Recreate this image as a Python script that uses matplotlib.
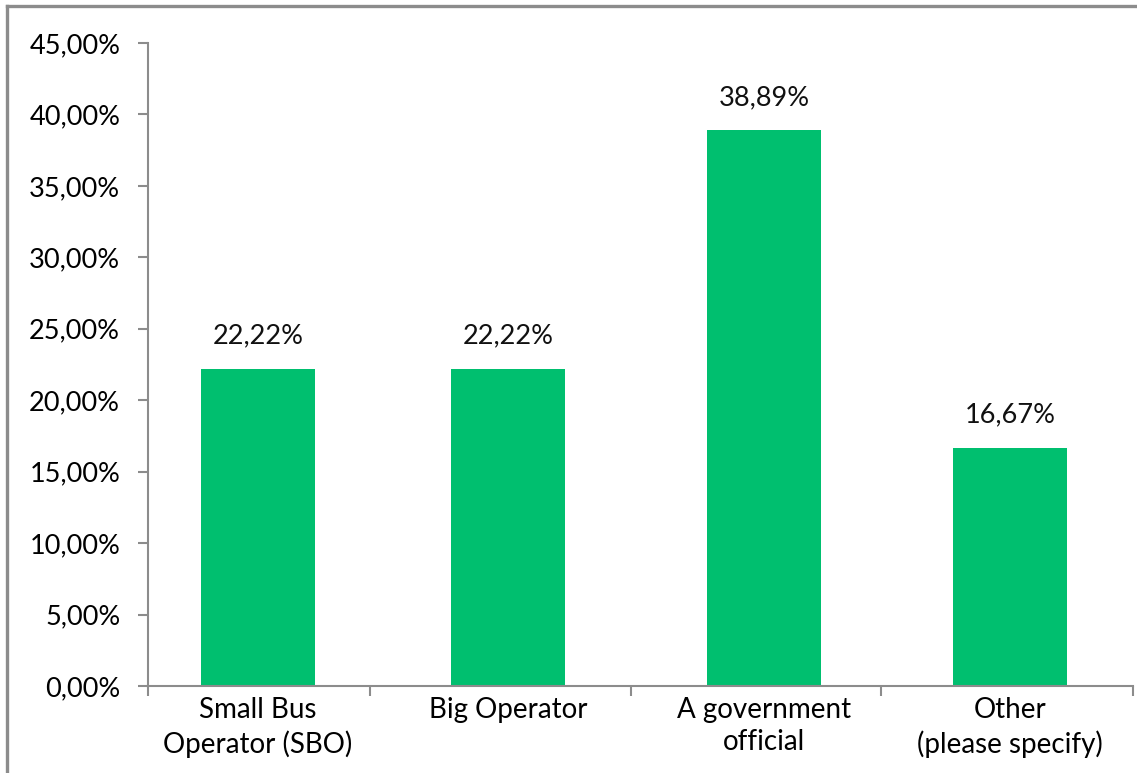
import matplotlib.pyplot as plt
from matplotlib.lines import Line2D
from matplotlib.ticker import FuncFormatter, MultipleLocator

categories = ['Small Bus\nOperator (SBO)', 'Big Operator', 'A government\nofficial', 'Other\n(please specify)']
shares = [22.22, 22.22, 38.89, 16.67]
value_labels = ['22,22%', '22,22%', '38,89%', '16,67%']

# slot layout (the source image is slightly uneven)
bar_x = [0.447, 1.462, 2.501, 3.500]
slot_edges = [0, 0.901, 1.961, 2.976, 4]

plt.rcParams['font.family'] = ['Lato', 'DejaVu Sans']
grey = '#8c8c8c'
green = '#00bf6f'

fig = plt.figure(figsize=(11.37, 7.73), dpi=100)
ax = fig.add_axes([148 / 1137, 87 / 773, 985 / 1137, 643 / 773])

ax.bar(bar_x, shares, width=0.46, color=green)
for x, v, lab in zip(bar_x, shares, value_labels):
    ax.text(x, v + 1.4, lab, ha='center', va='bottom', fontsize=19.5, color='#111111')

ax.set_xlim(0, 4)
ax.set_ylim(0, 45)
ax.yaxis.set_major_locator(MultipleLocator(5))
ax.yaxis.set_major_formatter(FuncFormatter(lambda v, p: f'{v:.2f}'.replace('.', ',') + '%'))

ax.set_xticks(slot_edges)
ax.set_xticklabels([])
ax.set_xticks(bar_x, minor=True)
ax.set_xticklabels(categories, minor=True, fontsize=20, linespacing=1.3)
ax.tick_params(axis='x', which='minor', length=0, pad=8)
ax.tick_params(axis='x', which='major', length=7, width=1.5, color=grey, direction='out')
ax.tick_params(axis='y', length=7, width=1.5, color=grey, labelsize=19.5, pad=13)

for s in ['top', 'right']:
    ax.spines[s].set_visible(False)
for s in ['left', 'bottom']:
    ax.spines[s].set_color(grey)
    ax.spines[s].set_linewidth(1.5)

# outer frame (only top and left visible in the source crop)
fig.add_artist(Line2D([7 / 1137, 1], [1 - 6 / 773, 1 - 6 / 773], color=grey, lw=2.4, transform=fig.transFigure))
fig.add_artist(Line2D([7 / 1137, 7 / 1137], [0, 1 - 6 / 773], color=grey, lw=2.4, transform=fig.transFigure))

fig.savefig('out.png', dpi=100)
